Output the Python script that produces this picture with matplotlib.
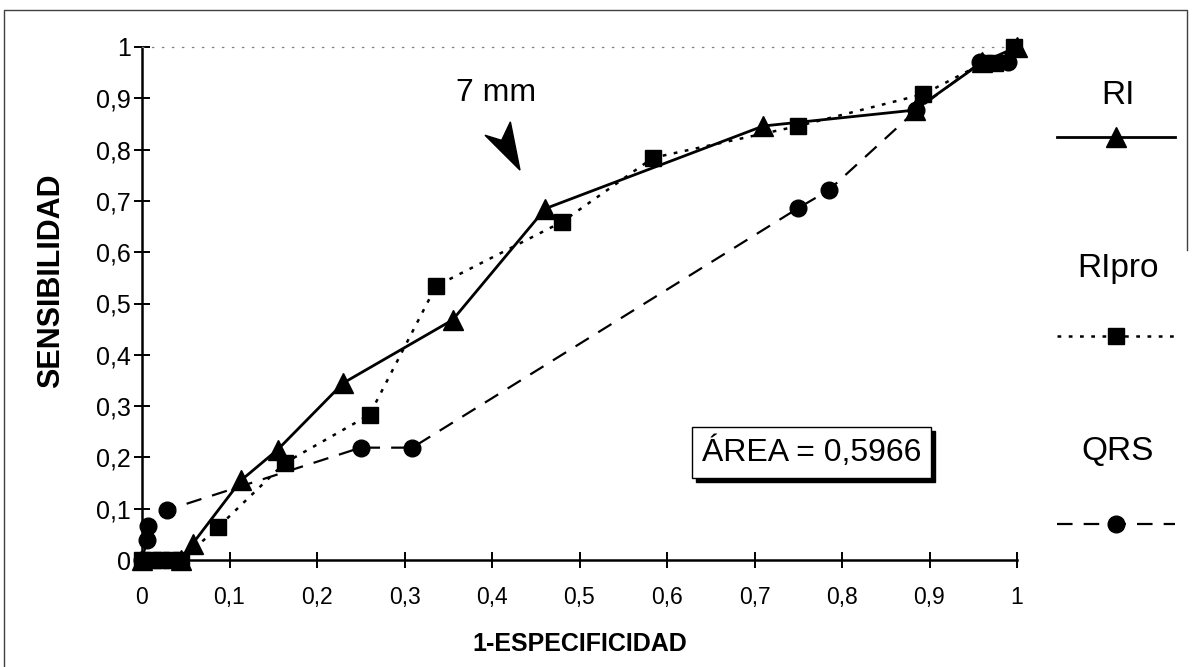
import numpy as np
import matplotlib
matplotlib.use('Agg')
import matplotlib.pyplot as plt
from matplotlib.lines import Line2D
from matplotlib.patches import Polygon, Rectangle
from matplotlib.ticker import FuncFormatter
from matplotlib.transforms import IdentityTransform

plt.rcParams['font.family'] = ['Liberation Sans', 'DejaVu Sans']

# ── Data: ROC curves (1-especificidad, sensibilidad) ─────────────────────
ri_x = [0.0, 0.045, 0.058, 0.113, 0.155, 0.23, 0.355, 0.461, 0.71, 0.883, 0.96, 1.0]
ri_y = [0.0, 0.0, 0.032, 0.155, 0.215, 0.345, 0.468, 0.685, 0.846, 0.877, 0.97, 1.0]

ripro_x = [0.0, 0.012, 0.022, 0.033, 0.045, 0.087, 0.163, 0.26, 0.336, 0.48,
           0.584, 0.75, 0.893, 0.962, 0.975, 0.997]
ripro_y = [0.0, 0.0, 0.0, 0.0, 0.0, 0.064, 0.189, 0.283, 0.534, 0.659,
           0.784, 0.846, 0.908, 0.969, 0.969, 1.0]

qrs_x = [0.0, 0.006, 0.007, 0.028, 0.25, 0.309, 0.75, 0.785, 0.885, 0.958, 0.99]
qrs_y = [0.0, 0.039, 0.066, 0.097, 0.219, 0.219, 0.686, 0.721, 0.877, 0.97, 0.97]

area_text = 'ÁREA = 0,5966'
series = [
    ('RI', ri_x, ri_y, dict(color='black', lw=2.0, ls='-', marker='^', ms=14)),
    ('RIpro', ripro_x, ripro_y, dict(color='black', lw=1.8, ls=(0, (1.5, 3)), marker='s', ms=12)),
    ('QRS', qrs_x, qrs_y, dict(color='black', lw=1.6, ls=(0, (7, 5)), marker='o', ms=12)),
]

# ── Figure ────────────────────────────────────────────────────────────────
fig = plt.figure(figsize=(11.92, 6.67), dpi=100)
fig.patch.set_facecolor('white')
ax = fig.add_axes([142/1192, 1 - 560/667, 875/1192, 513/667])

for name, xs, ys, st in series:
    ax.plot(xs, ys, clip_on=False, zorder=3, **st)

ax.set_xlim(0, 1)
ax.set_ylim(0, 1)
ax.set_xticks(np.arange(0, 1.01, 0.1))
ax.set_yticks(np.arange(0, 1.01, 0.1))
fmt = FuncFormatter(lambda v, p: ('%g' % round(v, 1)).replace('.', ','))
ax.xaxis.set_major_formatter(fmt)
ax.yaxis.set_major_formatter(fmt)
ax.tick_params(direction='inout', length=12, width=1.4)
ax.tick_params(axis='x', pad=13, labelsize=16.5)
ax.tick_params(axis='y', pad=2, labelsize=18)

for s in ['left', 'bottom']:
    ax.spines[s].set_linewidth(1.8)
ax.spines['right'].set_visible(False)
ax.spines['top'].set_color('0.5')
ax.spines['top'].set_linestyle((0, (1, 7)))
ax.spines['top'].set_linewidth(0.9)

ax.set_xlabel('1-ESPECIFICIDAD', fontsize=18, fontweight='bold')
ax.xaxis.set_label_coords(0.5, -0.14)
ax.set_ylabel('SENSIBILIDAD', fontsize=22, fontweight='bold', va='center')
ax.yaxis.set_label_coords(-0.104, 0.544)

# "7 mm" cut-off pointer
ax.text(0.405, 0.91, '7 mm', fontsize=23, ha='center', va='center')
ax.add_patch(Polygon([(0.432, 0.760), (0.392, 0.828), (0.411, 0.818), (0.421, 0.854)],
                     closed=True, facecolor='black', edgecolor='black', lw=1, zorder=4))

# area box, then a black drop shadow offset a few pixels behind it
area = ax.text(0.765, 0.21, area_text, fontsize=23, ha='center', va='center', zorder=5,
               bbox=dict(boxstyle='square,pad=0.3', facecolor='white',
                         edgecolor='black', lw=1.0))
fig.canvas.draw()
bb = area.get_bbox_patch().get_window_extent(fig.canvas.get_renderer())
ax.add_patch(Rectangle((bb.x0 + 4, bb.y0 - 4), bb.width, bb.height,
                       transform=IdentityTransform(), facecolor='black',
                       edgecolor='black', zorder=4, clip_on=False))

# legend on the right: label above each sample line
leg_text_y = [95, 268, 452]
leg_line_y = [137, 336, 524]
for (name, xs, ys, st), ty, ly in zip(series, leg_text_y, leg_line_y):
    fig.text(1118/1192, 1 - ty/667, name, fontsize=24, ha='center', va='center')
    fig.add_artist(Line2D(np.array([1057, 1116, 1175]) / 1192, [1 - ly/667] * 3,
                          markevery=[1], transform=fig.transFigure, **st))

# page frame
fig.add_artist(Line2D([4/1192, 4/1192, 1187/1192, 1187/1192],
                      [0, 1 - 10/667, 1 - 10/667, 1 - 250/667],
                      transform=fig.transFigure, color='0.25', lw=1.0))

fig.savefig('out.png', dpi=100, facecolor='white')
